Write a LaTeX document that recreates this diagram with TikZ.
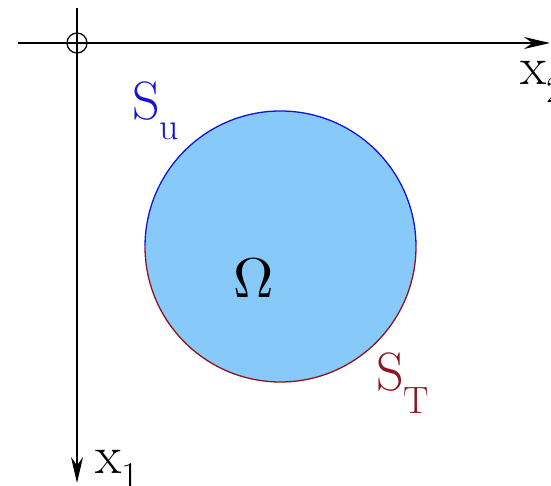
\documentclass[tikz,border=0pt]{standalone}
\usetikzlibrary{arrows.meta}
\definecolor{domainblue}{RGB}{135,202,250}
\definecolor{bndblue}{RGB}{20,20,210}
\definecolor{bndred}{RGB}{140,20,30}
\newcommand{\lowsub}[2]{\raisebox{#1}{\fontsize{38}{40}\selectfont #2}}

\begin{document}
\begin{tikzpicture}[>={Stealth[length=26pt,width=12pt]},x=1pt,y=1pt,
  lbl/.style={inner sep=0pt,anchor=base west,font=\fontsize{54}{60}\selectfont}]
  \useasboundingbox (0,0) rectangle (551,485);
  % axes with the origin marker
  \coordinate (O) at (77,442);
  \coordinate (xstart) at (18,442);
  \coordinate (xend) at (550,442);
  \coordinate (ystart) at (77,477);
  \coordinate (yend) at (77,2);
  \draw[line width=1.6pt,->] (xstart) -- (xend);
  \draw[line width=1.6pt,->] (ystart) -- (yend);
  \draw[line width=1.3pt] (O) circle (10pt);
  \node[lbl] (x2lbl) at (520,400) {x\lowsub{-18pt}{2}};
  \node[lbl] (x1lbl) at (95,12) {x\lowsub{-15pt}{1}};
  % the domain and its two boundary parts
  \coordinate (C) at (280.5,238.5);
  \fill[domainblue] (C) circle (135.5pt);
  \draw[bndblue,line width=1.3pt] (C) ++(-135.5,0) arc[start angle=180,end angle=0,radius=135.5];
  \draw[bndred,line width=1.3pt] (C) ++(-135.5,0) arc[start angle=180,end angle=360,radius=135.5];
  \node[inner sep=0pt,anchor=base west,scale=5.6] (Omega) at (232,188) {$\Omega$};
  \node[lbl,text=bndblue] (Sulbl) at (132,365) {S\lowsub{-20pt}{u}};
  \node[lbl,text=bndred] (STlbl) at (376,95) {S\lowsub{-23pt}{T}};
\end{tikzpicture}
\end{document}
